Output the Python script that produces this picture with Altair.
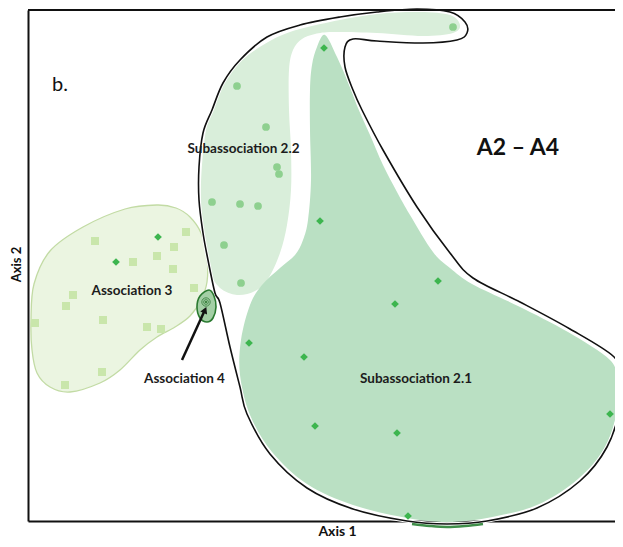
import altair as alt
import pandas as pd

# ---- outlines (Axis 1 = x, Axis 2 = y, picture units) ----
assoc3_outline = [(157,205),(176,208),(190,217),(201,233),(207,258),(207,282),(201,300),(190,316),
                  (175,327),(157,337),(140,350),(120,370),(100,383),(70,392),(50,387),(37,373),
                  (32,350),(31,320),(34,284),(50,251),(83,227),(125,209)]
sub22_outline = [(202,165),(207,125),(217,100),(227,78),(241,61),(263,45),(290,32),(330,22),(377,14),
                 (420,12),(450,15),(460,25),(453,33),(423,36),(377,33),(333,32),(315,34),(302,39),
                 (293,50),(289,70),(289,110),(291,150),(291,190),(287,225),(280,253),(268,279),
                 (255,291),(237,295),(220,288),(209,270),(204,240),(201,200)]
sub21_outline = [(325,35),(337,57),(350,87),(358,108),(370,135),(383,165),(397,192),(410,215),
                 (433,252),(450,268),(472,284),(518,306),(568,332),(610,360),(616,380),(617,410),
                 (605,447),(578,479),(537,505),(487,518),(447,522),(407,518),(353,505),(307,484),
                 (272,452),(250,415),(240,375),(241,340),(250,305),(262,285),(280,268),(295,255),
                 (303,240),(308,220),(311,180),(310,130),(310,90),(312,65),(317,47)]
a2a4_envelope = [(345,47),(345,67),(353,90),(362,110),(383,150),(417,207),(450,253),(473,278),
                 (520,302),(570,329),(613,356),(620,375),(620,407),(607,447),(580,481),(537,508),
                 (487,521),(447,524),(407,521),(353,509),(307,488),(270,454),(247,414),(240,387),
                 (230,347),(220,303),(215,293),(208,260),(203,233),(199,200),(199,167),(203,133),
                 (212,110),(223,83),(240,60),(267,37),(300,25),(340,17),(377,12),(417,9),(450,12),
                 (465,22),(467,33),(457,40),(423,43),(377,41),(353,39)]
assoc4_outline = [(209,290),(214,296),(216,307),(213,318),(207,322),(200,318),(197,307),(200,296)]
sub21_bottom_edge = [(412,524),(430,526),(447,527),(465,526),(483,524)]

# ---- relevés ----
assoc3_squares = [(95,241),(186,232),(174,247),(157,256),(133,262),(173,269),(73,295),(66,306),
                  (194,288),(103,320),(35,323),(147,327),(161,329),(102,372),(65,385)]
assoc3_diamonds = [(158,237),(116,262)]
sub22_circles = [(237,86),(266,127),(277,167),(279,174),(212,202),(240,204),(258,206),(224,245),
                 (241,283),(453,27)]
sub21_diamonds = [(324,48),(320,221),(438,281),(395,304),(249,343),(304,357),(610,414),(315,426),
                  (397,433),(408,516)]
assoc4_site = [(206,302)]
arrow_line = [(182,360),(204,312)]
arrow_head = [(205,310)]

# ---- labels ----
label_text = ["Subassociation 2.2", "Association 3", "Association 4", "Subassociation 2.1"]
label_x = [243.5, 132, 184.5, 416]
label_y = [153, 295, 383, 383]
panel_text = ["b."]
panel_x = [52]
panel_y = [91]
group_text = ["A2 – A4"]
group_x = [518]
group_y = [155]

FONT = "Lato"
X_MIN, X_MAX = 28, 615   # visible part of Axis 1 (picture units)
Y_MIN, Y_MAX = 10, 521   # Axis 2 (picture units, downward)

x_axis = alt.Axis(title="Axis 1", labels=False, ticks=False, grid=False, domainColor="#111",
                  domainWidth=2, titleFont=FONT, titleFontSize=14, titleFontWeight="bold",
                  titleColor="#111", titleX=309, titleY=14, titleBaseline="alphabetic",
                  titleAlign="center")
y_axis = alt.Axis(title="Axis 2", labels=False, ticks=False, grid=False, domainColor="#111",
                  domainWidth=2, titleFont=FONT, titleFontSize=13, titleFontWeight="bold",
                  titleColor="#111", titleX=-8, titleY=254, titleBaseline="alphabetic",
                  titleAlign="center")


def X():
    return alt.X("x:Q", scale=alt.Scale(domain=[X_MIN, X_MAX], nice=False, zero=False), axis=x_axis)


def Y():
    return alt.Y("y:Q", scale=alt.Scale(domain=[Y_MAX, Y_MIN], nice=False, zero=False), axis=y_axis)


def poly_df(pts):
    return pd.DataFrame({"x": [p[0] for p in pts], "y": [p[1] for p in pts],
                         "i": list(range(len(pts)))})


def pts_df(pts):
    return pd.DataFrame({"x": [p[0] for p in pts], "y": [p[1] for p in pts]})


def blob(pts, fill, stroke="transparent", sw=0.0, interp="cardinal-closed"):
    return alt.Chart(poly_df(pts)).mark_line(
        interpolate=interp, fill=fill, stroke=stroke, strokeWidth=sw
    ).encode(x=X(), y=Y(), order=alt.Order("i:Q"))


def curve(pts, stroke, sw, interp="cardinal-closed", opacity=1.0):
    return alt.Chart(poly_df(pts)).mark_line(
        interpolate=interp, stroke=stroke, strokeWidth=sw, opacity=opacity
    ).encode(x=X(), y=Y(), order=alt.Order("i:Q"))


assoc3 = blob(assoc3_outline, "#ebf5e1", "#c2dba4", 1.3)
sub22 = blob(sub22_outline, "#d9eeda")
sub21 = blob(sub21_outline, "#bae0c3")
halo = curve(a2a4_envelope, "white", 3.5)
envelope = curve(a2a4_envelope, "#111111", 1.6)
bottom_edge = curve(sub21_bottom_edge, "#1e7a2a", 2.5, interp="cardinal", opacity=0.85)
assoc4 = blob(assoc4_outline, "#a3cfa5", "#2a7a30", 1.6)

top_frame = alt.Chart(pts_df([(28, 10)])).mark_rule(color="#111", strokeWidth=2).encode(
    y=alt.value(0))

sq = alt.Chart(pts_df(assoc3_squares)).mark_point(
    shape="square", filled=True, size=64, color="#c9e6ab", opacity=1).encode(x=X(), y=Y())
dia3 = alt.Chart(pts_df(assoc3_diamonds)).mark_point(
    shape="diamond", filled=True, size=60, color="#3db54f", opacity=1).encode(x=X(), y=Y())
circ = alt.Chart(pts_df(sub22_circles)).mark_point(
    shape="circle", filled=True, size=60, color="#8ed08f", opacity=1).encode(x=X(), y=Y())
dia21 = alt.Chart(pts_df(sub21_diamonds)).mark_point(
    shape="diamond", filled=True, size=60, color="#3db54f", opacity=1).encode(x=X(), y=Y())

ring1 = alt.Chart(pts_df(assoc4_site)).mark_point(
    shape="circle", filled=False, size=70, stroke="#1f6e25", strokeWidth=1).encode(x=X(), y=Y())
ring2 = alt.Chart(pts_df(assoc4_site)).mark_point(
    shape="circle", filled=False, size=22, stroke="#1f6e25", strokeWidth=1).encode(x=X(), y=Y())
dot = alt.Chart(pts_df(assoc4_site)).mark_point(
    shape="circle", filled=True, size=4, color="#1f6e25", opacity=1).encode(x=X(), y=Y())

arrow = alt.Chart(poly_df(arrow_line)).mark_line(
    stroke="#111", strokeWidth=2.5).encode(x=X(), y=Y(), order=alt.Order("i:Q"))
head = alt.Chart(pts_df(arrow_head)).mark_point(
    shape="triangle-up", filled=True, size=55, color="#111", opacity=1, angle=24
).encode(x=X(), y=Y())

labels = alt.Chart(pd.DataFrame({"x": label_x, "y": label_y, "t": label_text})).mark_text(
    font=FONT, fontSize=13.5, fontWeight="bold", color="#1c1c1c", align="center",
    baseline="alphabetic").encode(x=X(), y=Y(), text="t:N")
panel = alt.Chart(pd.DataFrame({"x": panel_x, "y": panel_y, "t": panel_text})).mark_text(
    font=FONT, fontSize=20, fontWeight="normal", color="#111", align="left",
    baseline="alphabetic").encode(x=X(), y=Y(), text="t:N")
group = alt.Chart(pd.DataFrame({"x": group_x, "y": group_y, "t": group_text})).mark_text(
    font=FONT, fontSize=23, fontWeight="bold", color="#111", align="center",
    baseline="alphabetic").encode(x=X(), y=Y(), text="t:N")

chart = alt.layer(
    assoc3, sub22, sub21, halo, envelope, bottom_edge, top_frame,
    sq, dia3, circ, dia21, assoc4, ring1, ring2, dot, arrow, head,
    labels, panel, group
).properties(
    width=X_MAX - X_MIN, height=Y_MAX - Y_MIN,
    autosize=alt.AutoSizeParams(type="none"),
    padding={"left": 20, "top": 2, "right": 0, "bottom": 18},
    background="white",
).configure_view(strokeWidth=0)

chart.save("out.html", embed_options={"renderer": "svg", "actions": False})
